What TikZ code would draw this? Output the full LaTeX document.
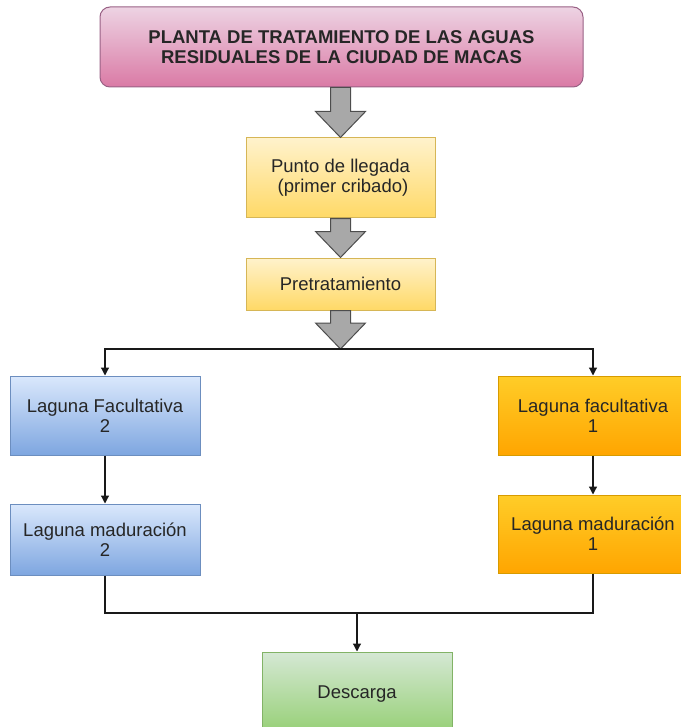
\documentclass[tikz,border=0pt]{standalone}
\usepackage{fontspec}
\setmainfont{Liberation Sans}
\usetikzlibrary{calc,arrows.meta}
\definecolor{pinkA}{HTML}{EDD3E3}
\definecolor{pinkB}{HTML}{DA7AA5}
\definecolor{pinkS}{HTML}{996185}
\definecolor{yelA}{HTML}{FFF2CC}
\definecolor{yelB}{HTML}{FFD966}
\definecolor{yelS}{HTML}{D6B656}
\definecolor{bluA}{HTML}{DAE8FC}
\definecolor{bluB}{HTML}{7EA6E0}
\definecolor{bluS}{HTML}{6C8EBF}
\definecolor{oraA}{HTML}{FFCD28}
\definecolor{oraB}{HTML}{FFA500}
\definecolor{oraS}{HTML}{D79B00}
\definecolor{grnA}{HTML}{D5E8D4}
\definecolor{grnB}{HTML}{97D077}
\definecolor{grnS}{HTML}{82B366}
\definecolor{txt}{HTML}{262626}
\definecolor{arrF}{HTML}{A8A8A8}
\definecolor{arrS}{HTML}{4D4D4D}
\tikzset{
  box/.style={draw, line width=1pt, minimum width=189pt, align=center,
    inner sep=0pt, font=\fontsize{18.5}{20}\selectfont, text=txt},
  titlebox/.style={box, rounded corners=10pt, top color=pinkA, bottom color=pinkB,
    draw=pinkS, minimum width=483pt, minimum height=80pt,
    font=\fontsize{18.5}{20}\selectfont\bfseries},
  yelbox/.style={box, top color=yelA, bottom color=yelB, draw=yelS},
  blubox/.style={box, top color=bluA, bottom color=bluB, draw=bluS, minimum width=190pt},
  orabox/.style={box, top color=oraA, bottom color=oraB, draw=oraS, minimum width=190pt},
  grnbox/.style={box, top color=grnA, bottom color=grnB, draw=grnS, minimum width=190pt},
  blockarr/.style={fill=arrF, draw=arrS, line width=1pt, line join=miter},
  conn/.style={draw=black!90, line width=1.2pt, -{Triangle[width=8pt,length=8pt]}},
  plain/.style={draw=black!90, line width=1.2pt}
}
\newcommand\blockarrow[2]{%
  \draw[blockarr] ($(#1 -| #2)+(-10,0)$) -- ($(#2)+(-10,-26)$) -- ($(#2)+(-25,-26)$)
    -- (#2) -- ($(#2)+(25,-26)$) -- ($(#2)+(10,-26)$) -- ($(#1 -| #2)+(10,0)$) -- cycle;}
\begin{document}
\begin{tikzpicture}[x=1pt,y=-1pt]
\useasboundingbox (0,0) rectangle (680,727);
\node[titlebox] (title) at (341.5,47) {PLANTA DE TRATAMIENTO DE LAS AGUAS\\RESIDUALES DE LA CIUDAD DE MACAS};
\node[yelbox, minimum height=80pt] (p1) at (340.5,178) {Punto de llegada\\\hspace*{5pt}(primer cribado)};
\node[yelbox, minimum height=52pt] (p2) at (340.5,284) {Pretratamiento};
\coordinate (split) at (340.5,349);
\node[blubox, minimum height=79pt] (b1) at (105,415.5) {Laguna Facultativa\\2};
\node[blubox, minimum height=71pt] (b2) at (105,539.5) {Laguna maduración\\2};
\node[orabox, minimum height=79pt] (o1) at (593,415.5) {Laguna facultativa\\1};
\node[orabox, minimum height=78pt] (o2) at (593,534) {Laguna maduración\\1};
\coordinate (join) at (357,613);
\node[grnbox, minimum height=80pt, text depth=0pt] (d) at (357,692) {Descarga};
\blockarrow{title.south}{p1.north}
\blockarrow{p1.south}{p2.north}
\blockarrow{p2.south}{split}
\draw[conn] (split) -| (b1.north);
\draw[conn] (split) -| (o1.north);
\draw[conn] (b1.south) -- (b2.north);
\draw[conn] (o1.south) -- (o2.north);
\draw[plain] (b2.south) |- (join);
\draw[plain] (o2.south) |- (join);
\draw[conn] (join) -- (d.north);
\end{tikzpicture}
\end{document}
